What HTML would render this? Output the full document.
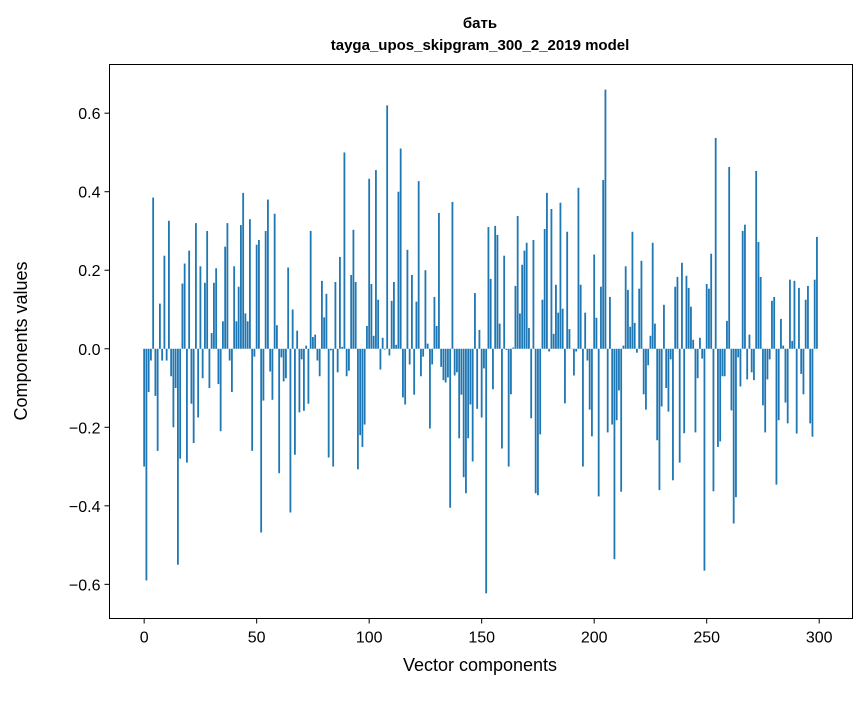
<!DOCTYPE html>
<html><head><meta charset="utf-8">
<style>
body{margin:0;background:#fff;}
svg text{font-family:"Liberation Sans","DejaVu Sans",sans-serif;fill:#000;}
</style></head>
<body>
<svg id="chart" width="867" height="696" xmlns="http://www.w3.org/2000/svg">
<rect width="867" height="696" fill="#fff"/>
<text x="480" y="28" text-anchor="middle" font-size="15" font-weight="bold">бать</text>
<text x="480" y="50" text-anchor="middle" font-size="15" font-weight="bold">tayga_upos_skipgram_300_2_2019 model</text>
<g id="bars"></g>
<rect x="109.5" y="64.5" width="743" height="554" fill="none" stroke="#000" stroke-width="1"/>
<g id="xticks"></g>
<g id="yticks"></g>
<text x="480" y="671" text-anchor="middle" font-size="18">Vector components</text>
<text transform="translate(27,341) rotate(-90)" text-anchor="middle" font-size="18">Components values</text>
</svg>
<script>
const values = [
-0.30,-0.59,-0.11,-0.03,0.385,-0.12,-0.26,0.115,-0.03,0.237,
-0.03,0.326,-0.07,-0.20,-0.10,-0.55,-0.28,0.166,0.217,-0.29,
0.25,-0.14,-0.24,0.32,-0.175,0.21,-0.075,0.168,0.30,-0.10,
0.04,0.168,0.205,-0.09,-0.21,0.07,0.26,0.32,-0.03,-0.11,
0.21,0.07,0.158,0.315,0.397,0.09,0.07,0.33,-0.26,-0.02,
0.265,0.277,-0.468,-0.132,0.30,0.38,-0.058,-0.13,0.344,0.06,
-0.317,-0.022,-0.083,-0.075,0.207,-0.417,0.10,-0.27,0.046,-0.162,
-0.027,-0.158,0.008,-0.14,0.30,0.03,0.036,-0.03,-0.07,0.173,
0.08,0.14,-0.277,-0.004,-0.30,0.17,-0.06,0.234,0.005,0.50,
-0.07,-0.056,0.188,0.303,0.17,-0.307,-0.22,-0.25,-0.193,0.058,
0.433,0.165,0.033,0.455,0.125,-0.053,0.028,-0.002,0.62,-0.017,
0.122,0.17,0.01,0.40,0.51,-0.124,-0.142,0.252,-0.04,0.188,
-0.117,0.12,0.427,-0.07,-0.02,0.20,0.013,-0.203,-0.04,0.132,
0.058,0.346,-0.046,-0.08,-0.086,-0.073,-0.405,0.374,-0.068,-0.06,
-0.228,-0.117,-0.327,-0.368,-0.228,-0.142,-0.287,0.142,-0.153,0.048,
-0.175,-0.05,-0.623,0.31,0.178,-0.103,0.313,0.29,0.064,-0.254,
0.237,-0.003,-0.30,-0.116,0.003,0.16,0.338,0.09,0.214,0.25,
0.27,0.053,-0.177,0.277,-0.368,-0.373,-0.218,0.125,0.305,0.397,
-0.007,0.356,0.038,0.163,0.092,0.372,0.102,-0.139,0.298,0.05,
0.0,-0.068,-0.007,0.41,0.163,-0.30,0.092,-0.03,-0.155,-0.223,
0.24,0.079,-0.376,0.158,0.43,0.66,-0.213,0.132,-0.193,-0.536,
-0.182,-0.106,-0.364,0.008,0.21,0.15,0.056,0.298,0.066,-0.01,
0.153,0.224,-0.116,-0.155,-0.042,0.033,0.27,0.064,-0.233,-0.36,
-0.147,0.112,-0.10,-0.16,-0.027,-0.335,0.158,0.183,-0.29,0.219,
-0.215,0.186,0.155,0.107,0.023,-0.213,-0.075,0.028,-0.025,-0.565,
0.165,0.153,0.242,-0.363,0.537,-0.25,-0.236,-0.07,-0.07,0.071,
0.463,-0.157,-0.445,-0.378,-0.022,-0.096,0.30,0.316,-0.078,0.036,
-0.06,-0.08,0.453,0.272,0.183,-0.144,-0.213,-0.078,-0.027,0.122,
0.132,-0.346,-0.182,0.076,0.008,-0.137,-0.19,0.176,0.02,0.173,
-0.216,0.155,-0.064,-0.116,0.125,0.16,-0.19,-0.224,0.176,0.285
];
const xTickValues = [0,50,100,150,200,250,300];
const yTickValues = [-0.6,-0.4,-0.2,0.0,0.2,0.4,0.6];
const yTickLabels = ["\u22120.6","\u22120.4","\u22120.2","0.0","0.2","0.4","0.6"];

const NS="http://www.w3.org/2000/svg";
const L=109.5,R=852.5,T=64.5,B=618.5;
const xMin=-15.4,xMax=314.8,yMin=-0.687,yMax=0.724;
function xs(v){return L+(v-xMin)/(xMax-xMin)*(R-L);}
function ys(v){return B-(v-yMin)/(yMax-yMin)*(B-T);}
const bw=(xs(0.8)-xs(0));
const gb=document.getElementById('bars');
values.forEach((v,i)=>{
  const r=document.createElementNS(NS,'rect');
  const y0=ys(0),y1=ys(v);
  r.setAttribute('x',xs(i)-bw/2);
  r.setAttribute('y',Math.min(y0,y1));
  r.setAttribute('width',bw);
  r.setAttribute('height',Math.max(Math.abs(y1-y0),0.3));
  r.setAttribute('fill','#1f77b4');
  
  
  gb.appendChild(r);
});
const gx=document.getElementById('xticks');
xTickValues.forEach(v=>{
  const x=xs(v);
  const l=document.createElementNS(NS,'line');
  l.setAttribute('x1',x);l.setAttribute('x2',x);l.setAttribute('y1',B);l.setAttribute('y2',B+5);
  l.setAttribute('stroke','#000');
  
  
  gx.appendChild(l);
  const t=document.createElementNS(NS,'text');
  t.setAttribute('x',x);t.setAttribute('y',B+24);t.setAttribute('text-anchor','middle');t.setAttribute('font-size','16');
  t.textContent=v;
  
  
  gx.appendChild(t);
});
const gy=document.getElementById('yticks');
yTickValues.forEach((v,k)=>{
  const y=ys(v);
  const l=document.createElementNS(NS,'line');
  l.setAttribute('x1',L-5);l.setAttribute('x2',L);l.setAttribute('y1',y);l.setAttribute('y2',y);
  l.setAttribute('stroke','#000');
  
  
  gy.appendChild(l);
  const t=document.createElementNS(NS,'text');
  t.setAttribute('x',L-9);t.setAttribute('y',y+6);t.setAttribute('text-anchor','end');t.setAttribute('font-size','16');
  t.textContent=yTickLabels[k];
  
  
  gy.appendChild(t);
});
</script>
</body></html>
